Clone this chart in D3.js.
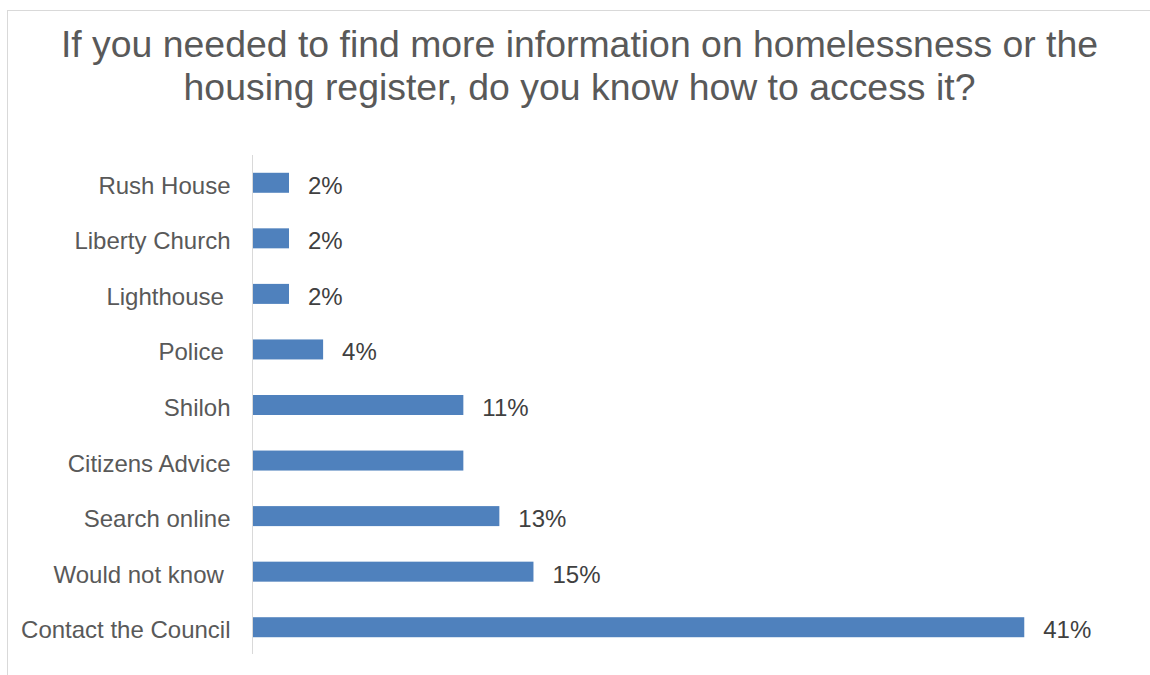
<!DOCTYPE html>
<html>
<head>
<meta charset="utf-8">
<script src="https://cdn.jsdelivr.net/npm/d3@7"></script>
<style>
  html, body { margin: 0; padding: 0; background: #ffffff; }
  svg { display: block; }
  text { font-family: "Liberation Sans", Arial, sans-serif; }
</style>
</head>
<body>
<svg id="chart" width="1150" height="675"></svg>
<script>
// Survey answers, top to bottom
const categories = [
  "Rush House",
  "Liberty Church",
  "Lighthouse ",
  "Police ",
  "Shiloh",
  "Citizens Advice",
  "Search online",
  "Would not know ",
  "Contact the Council"
];
// Share of respondents (%)
const values = [1.9, 1.9, 1.9, 3.7, 11.1, 11.1, 13.0, 14.8, 40.7];
// Which bars carry a data label
const showLabel = [true, true, true, true, true, false, true, true, true];
const titleLines = [
  "If you needed to find more information on homelessness or the",
  "housing register, do you know how to access it?"
];

const svg = d3.select("#chart");

// Chart frame (runs past the right and bottom edges)
svg.append("rect")
  .attr("x", 7.5).attr("y", 10.5)
  .attr("width", 1200).attr("height", 700)
  .attr("fill", "#ffffff")
  .attr("stroke", "#d9d9d9")
  .attr("stroke-width", 1);

// Title
const title = svg.append("text")
  .attr("text-anchor", "middle")
  .attr("fill", "#595959")
  .style("font-size", "37.4px");
titleLines.forEach((line, i) => {
  title.append("tspan")
    .attr("x", 579.5)
    .attr("y", 57 + i * 43)
    .text(line);
});

const rows = categories.map((c, i) => ({ cat: c, value: values[i], show: showLabel[i] }));

const x = d3.scaleLinear().domain([0, 45]).range([253, 253 + 45 * 18.95]);
const y = d3.scaleBand().domain(categories).range([155, 655]).paddingInner(0.64).paddingOuter(0.32);

// Bars
svg.append("g")
  .selectAll("rect")
  .data(rows)
  .join("rect")
  .attr("x", x(0))
  .attr("y", d => y(d.cat))
  .attr("width", d => x(d.value) - x(0))
  .attr("height", y.bandwidth())
  .attr("fill", "#4f81bd");

// Category axis
const axis = svg.append("g")
  .attr("transform", `translate(${x(0) - 0.5},0)`)
  .call(d3.axisLeft(y).tickSize(0).tickPadding(22));
axis.select(".domain")
  .attr("stroke", "#d9d9d9")
  .attr("stroke-width", 1)
  .attr("d", "M0,155V654");
axis.selectAll(".tick text")
  .attr("fill", "#595959")
  .attr("dy", "0.46em")
  .style("font-size", "24px")
  .style("white-space", "pre")
  .style("font-family", "'Liberation Sans', Arial, sans-serif");

// Data labels
const fmt = d3.format(".0f");
svg.append("g")
  .selectAll("text")
  .data(rows.filter(d => d.show))
  .join("text")
  .attr("x", d => x(d.value) + 19)
  .attr("y", d => y(d.cat) + y.bandwidth() / 2)
  .attr("dy", "0.46em")
  .attr("fill", "#404040")
  .style("font-size", "24px")
  .text(d => fmt(d.value) + "%");
</script>
</body>
</html>
